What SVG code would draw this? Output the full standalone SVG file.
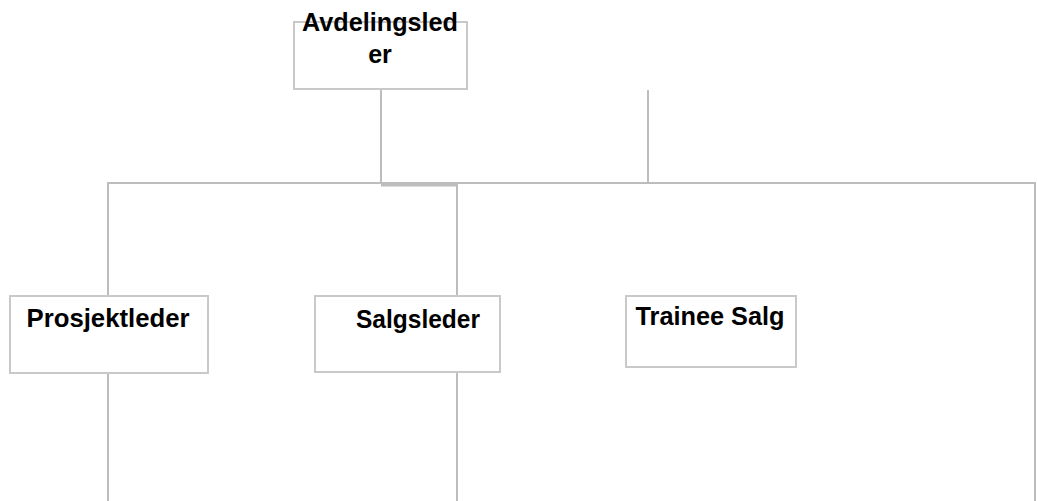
<svg xmlns="http://www.w3.org/2000/svg" width="1037" height="501" viewBox="0 0 1037 501">
<style>
.box{fill:#fff;stroke:#c9c9c9;stroke-width:2}
.ln{fill:none;stroke:#bdbdbd;stroke-width:2}
.t{font-family:"Liberation Sans",Arial,sans-serif;font-weight:bold;font-size:25px;fill:#000}
</style>
<rect width="1037" height="501" fill="#fff"/>
<g id="connectors">
<line class="ln" x1="381" y1="89" x2="381" y2="184"/>
<line class="ln" x1="648" y1="90" x2="648" y2="184"/>
<polyline class="ln" points="108,297 108,183 1035,183 1035,501"/>
<line class="ln" x1="381" y1="185" x2="458" y2="185" style="stroke-width:3"/>
<line class="ln" x1="457" y1="185" x2="457" y2="296"/>
<line class="ln" x1="108" y1="373" x2="108" y2="501"/>
<line class="ln" x1="457" y1="372" x2="457" y2="501"/>
</g>
<g id="avdelingsleder">
<rect class="box" x="294" y="22" width="173" height="67"/>
<text class="t" x="380" y="31" text-anchor="middle" textLength="156" lengthAdjust="spacingAndGlyphs">Avdelingsled</text>
<text class="t" x="380" y="63" text-anchor="middle">er</text>
</g>
<g id="prosjektleder">
<rect class="box" x="10" y="296" width="198" height="77"/>
<text class="t" x="108" y="327" text-anchor="middle" textLength="163" lengthAdjust="spacingAndGlyphs">Prosjektleder</text>
</g>
<g id="salgsleder">
<rect class="box" x="315" y="296" width="185" height="76"/>
<text class="t" x="418" y="328" text-anchor="middle" textLength="124" lengthAdjust="spacingAndGlyphs">Salgsleder</text>
</g>
<g id="trainee-salg">
<rect class="box" x="626" y="296" width="170" height="71"/>
<text class="t" x="710" y="325" text-anchor="middle" textLength="149" lengthAdjust="spacingAndGlyphs">Trainee Salg</text>
</g>
</svg>
